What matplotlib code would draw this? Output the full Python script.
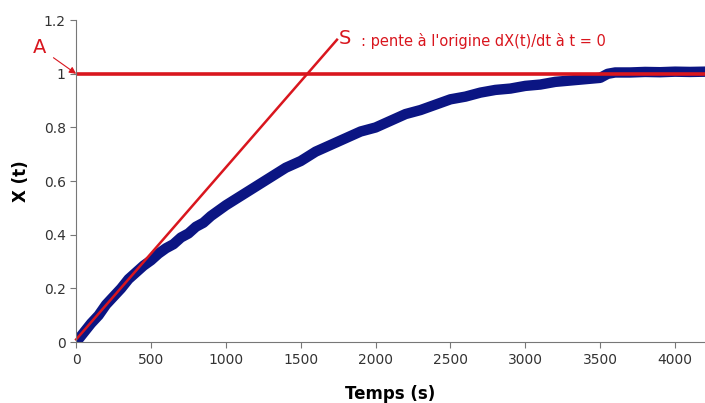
import matplotlib
matplotlib.use("Agg")
import matplotlib.pyplot as plt

# X(t) (centre of the noisy band)
t = [0, 50, 100, 150, 200, 250, 300, 350, 400, 450, 500, 550, 600, 650, 700,
     750, 800, 850, 900, 950, 1000, 1100, 1200, 1300, 1400, 1500, 1600, 1700,
     1800, 1900, 2000, 2100, 2200, 2300, 2400, 2500, 2600, 2700, 2800, 2900,
     3000, 3100, 3200, 3300, 3400, 3500, 3550, 3600, 3700, 3800, 3900, 4000,
     4100, 4200, 4300]
x = [0.0, 0.035, 0.07, 0.10, 0.14, 0.17, 0.20, 0.235, 0.26, 0.285, 0.305, 0.33, 0.35,
     0.365, 0.39, 0.405, 0.43, 0.445, 0.47, 0.49, 0.51, 0.545, 0.58, 0.615, 0.65,
     0.675, 0.71, 0.735, 0.76, 0.785, 0.80, 0.825, 0.85, 0.865, 0.885, 0.905, 0.915,
     0.93, 0.94, 0.945, 0.955, 0.96, 0.97, 0.975, 0.98, 0.985, 1.0, 1.005, 1.005,
     1.007, 1.006, 1.008, 1.007, 1.008, 1.008]

# tangent at the origin (ends at the point S)
tangent_t = [0, 1742]
tangent_x = [0.01, 1.127]

red = '#d9161e'
navy = '#0b1583'

fig = plt.figure(figsize=(7.05, 4.03), dpi=100)
ax = fig.add_axes([0.108, 0.151, 0.892, 0.799])

ax.plot(t, x, color=navy, lw=7.5, solid_capstyle='round', solid_joinstyle='round')
ax.plot([0, 4300], [1, 1], color=red, lw=2.6, clip_on=True)
ax.plot(tangent_t, tangent_x, color=red, lw=1.8, clip_on=False)

ax.annotate('A', xy=(0, 1), xytext=(-245, 1.097), color=red, fontsize=14,
            ha='center', va='center', annotation_clip=False,
            arrowprops=dict(arrowstyle='-|>', color=red, lw=0.8, shrinkA=4, shrinkB=0,
                            mutation_scale=10))
ax.text(1755, 1.13, 'S', color=red, fontsize=14, ha='left', va='center')
ax.text(1900, 1.123, ": pente à l'origine dX(t)/dt à t = 0", color=red,
        fontsize=10.5, ha='left', va='center')

ax.set_xlim(0, 4200)
ax.set_ylim(0, 1.2)
ax.set_xticks([0, 500, 1000, 1500, 2000, 2500, 3000, 3500, 4000])
ax.set_yticks([0, 0.2, 0.4, 0.6, 0.8, 1, 1.2])
ax.set_yticklabels(['0', '0.2', '0.4', '0.6', '0.8', '1', '1.2'])

for side in ['top', 'right']:
    ax.spines[side].set_visible(False)
for side in ['left', 'bottom']:
    ax.spines[side].set_color('#777777')
ax.tick_params(colors='#777777', labelcolor='#333333', labelsize=10, length=4)

ax.set_xlabel('Temps (s)', fontsize=12, fontweight='bold', labelpad=13)
ax.set_ylabel('X (t)', fontsize=12, fontweight='bold', labelpad=10)

fig.savefig('out.png', dpi=100)
